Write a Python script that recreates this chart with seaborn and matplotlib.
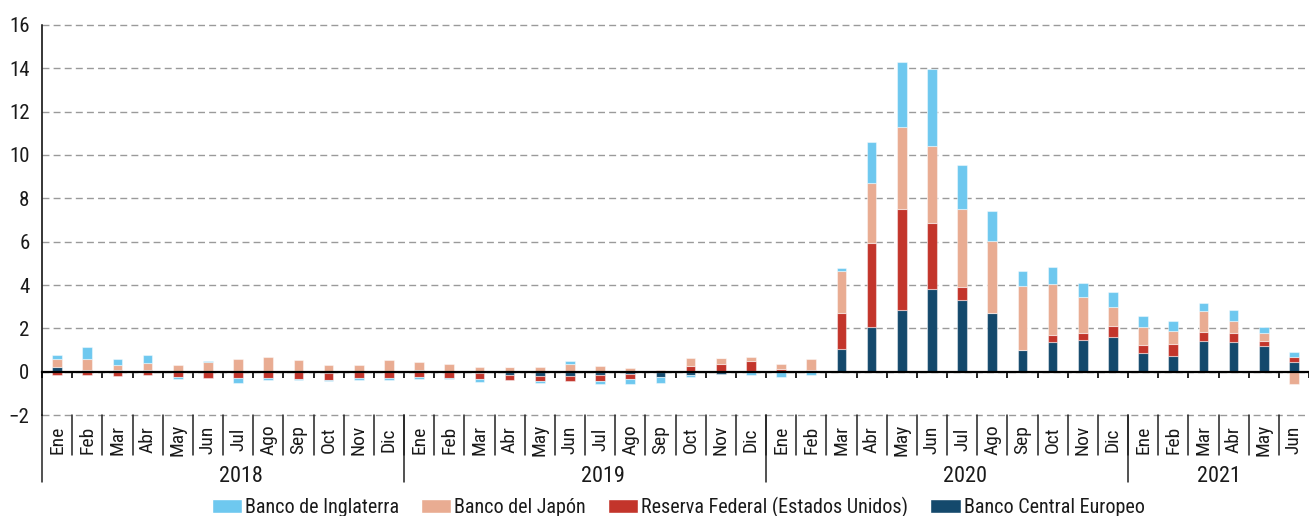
import numpy as np
import pandas as pd
import seaborn as sns
import matplotlib.pyplot as plt
from matplotlib import transforms
from matplotlib.patches import Patch

# Meses y años (ene 2018 - jun 2021)
meses = ["Ene", "Feb", "Mar", "Abr", "May", "Jun", "Jul", "Ago", "Sep", "Oct", "Nov", "Dic"]
anios = ["2018", "2019", "2020", "2021"]
meses_por_anio = [12, 12, 12, 6]

# Series (billones de dólares aprox.)
bce = [0.22, 0.10, 0.06, 0.06, 0.00, 0.00, 0.00, 0.03, 0.00, -0.04, 0.00, 0.04,
       0.08, 0.00, -0.06, -0.15, -0.18, -0.18, -0.17, -0.12, -0.25, -0.14, -0.09, 0.05,
       0.00, 0.00, 1.06, 2.05, 2.83, 3.80, 3.29, 2.69, 1.00, 1.35, 1.45, 1.58,
       0.85, 0.71, 1.40, 1.35, 1.17, 0.43]
fed = [-0.17, -0.17, -0.20, -0.17, -0.25, -0.30, -0.30, -0.30, -0.34, -0.34, -0.30, -0.28,
       -0.25, -0.28, -0.26, -0.23, -0.25, -0.25, -0.28, -0.22, 0.00, 0.28, 0.35, 0.42,
       0.12, 0.08, 1.63, 3.89, 4.68, 3.08, 0.63, 0.02, 0.00, 0.35, 0.35, 0.52,
       0.40, 0.57, 0.45, 0.42, 0.23, 0.24]
boj = [0.38, 0.50, 0.26, 0.35, 0.32, 0.43, 0.60, 0.63, 0.54, 0.32, 0.30, 0.48,
       0.35, 0.35, 0.23, 0.23, 0.23, 0.37, 0.26, 0.17, 0.10, 0.35, 0.28, 0.22,
       0.22, 0.50, 1.97, 2.77, 3.80, 3.54, 3.58, 3.32, 2.97, 2.34, 1.65, 0.88,
       0.83, 0.62, 0.95, 0.58, 0.37, -0.56]
boe = [0.18, 0.54, 0.28, 0.34, -0.09, 0.05, -0.20, -0.09, -0.06, -0.03, -0.09, -0.12,
       -0.10, -0.05, -0.15, 0.00, -0.08, 0.12, -0.14, -0.25, -0.28, -0.12, 0.00, -0.14,
       -0.26, -0.15, 0.11, 1.91, 2.97, 3.55, 2.03, 1.38, 0.68, 0.78, 0.65, 0.68,
       0.48, 0.46, 0.38, 0.49, 0.29, 0.23]

series = ["Banco Central Europeo", "Reserva Federal (Estados Unidos)", "Banco del Japón", "Banco de Inglaterra"]
colores = ["#14496C", "#C3352B", "#E9AC92", "#6EC8EF"]

df = pd.DataFrame(dict(zip(series, [bce, fed, boj, boe])))

sns.set_theme(style="white")
plt.rcParams["font.family"] = ["Roboto Condensed", "DejaVu Sans"]
plt.rcParams["text.color"] = "#1A1A1A"
plt.rcParams["ytick.labelcolor"] = "#1A1A1A"

fig = plt.figure(figsize=(13.09, 5.16), dpi=100)
ax = fig.add_axes([0.0321, 0.1957, 0.9679, 0.7559])

x = np.arange(len(df))
pos = np.zeros(len(df))
neg = np.zeros(len(df))
for col, c in zip(series, colores):
    v = df[col].to_numpy()
    base = np.where(v >= 0, pos, neg)
    ax.bar(x, v, bottom=base, width=0.32, color=c, edgecolor=(1, 1, 1, 0.45), linewidth=0.8, zorder=3)
    pos += np.clip(v, 0, None)
    neg += np.clip(v, None, 0)

ax.set_xlim(-0.5, len(df) - 0.5)
ax.set_ylim(-2, 16)
ax.set_yticks(np.arange(-2, 17, 2))
ax.tick_params(axis="y", direction="out", length=6, width=1, color="black", labelsize=15, pad=3)
ax.grid(axis="y", linestyle=(0, (5, 3)), color="#9A9A9A", linewidth=1)
for gl in ax.get_ygridlines():
    gl.set_clip_on(False)
ax.set_axisbelow(True)

for s in ["top", "right"]:
    ax.spines[s].set_visible(False)
ax.spines["left"].set_color("black")
ax.spines["left"].set_linewidth(1.1)
# eje horizontal en cero
ax.spines["bottom"].set_position(("data", 0))
ax.spines["bottom"].set_color("black")
ax.spines["bottom"].set_linewidth(1.6)
ax.spines["bottom"].set_zorder(4)
ax.set_xticks(np.arange(-0.5, len(df), 1))
ax.set_xticklabels([])
ax.tick_params(axis="x", direction="out", length=4, width=1.2, color="black", bottom=True)

# etiquetas de meses y años debajo del gráfico
tr = transforms.blended_transform_factory(ax.transData, ax.transAxes)
etiquetas = [meses[i % 12] for i in range(len(df))]
for i, lab in enumerate(etiquetas):
    ax.text(i, -0.063, lab, transform=tr, rotation=90, ha="center", va="center", fontsize=14)
for b in np.arange(0.5, len(df) - 1, 1):
    ax.plot([b, b], [0, -0.102], transform=tr, color="#222222", lw=1.1, clip_on=False)

inicio = 0
for anio, n in zip(anios, meses_por_anio):
    desplaz = 0.6 if n == 12 else 0.0
    ax.text(inicio + (n - 1) / 2 + desplaz, -0.158, anio, transform=tr, ha="center", va="center", fontsize=16)
    ax.plot([inicio - 0.5, inicio - 0.5], [0, -0.172], transform=tr, color="#222222", lw=1.1, clip_on=False)
    inicio += n

handles = [Patch(facecolor=c, label=s) for s, c in zip(series, colores)][::-1]
fig.legend(handles=handles, loc="center", bbox_to_anchor=(0.518, 0.0174), ncol=4, frameon=False,
           fontsize=14.5, handlelength=1.5, handleheight=0.68, handletextpad=0.15, columnspacing=1.1,
           borderpad=0, borderaxespad=0)

fig.savefig("out.png", dpi=100)
